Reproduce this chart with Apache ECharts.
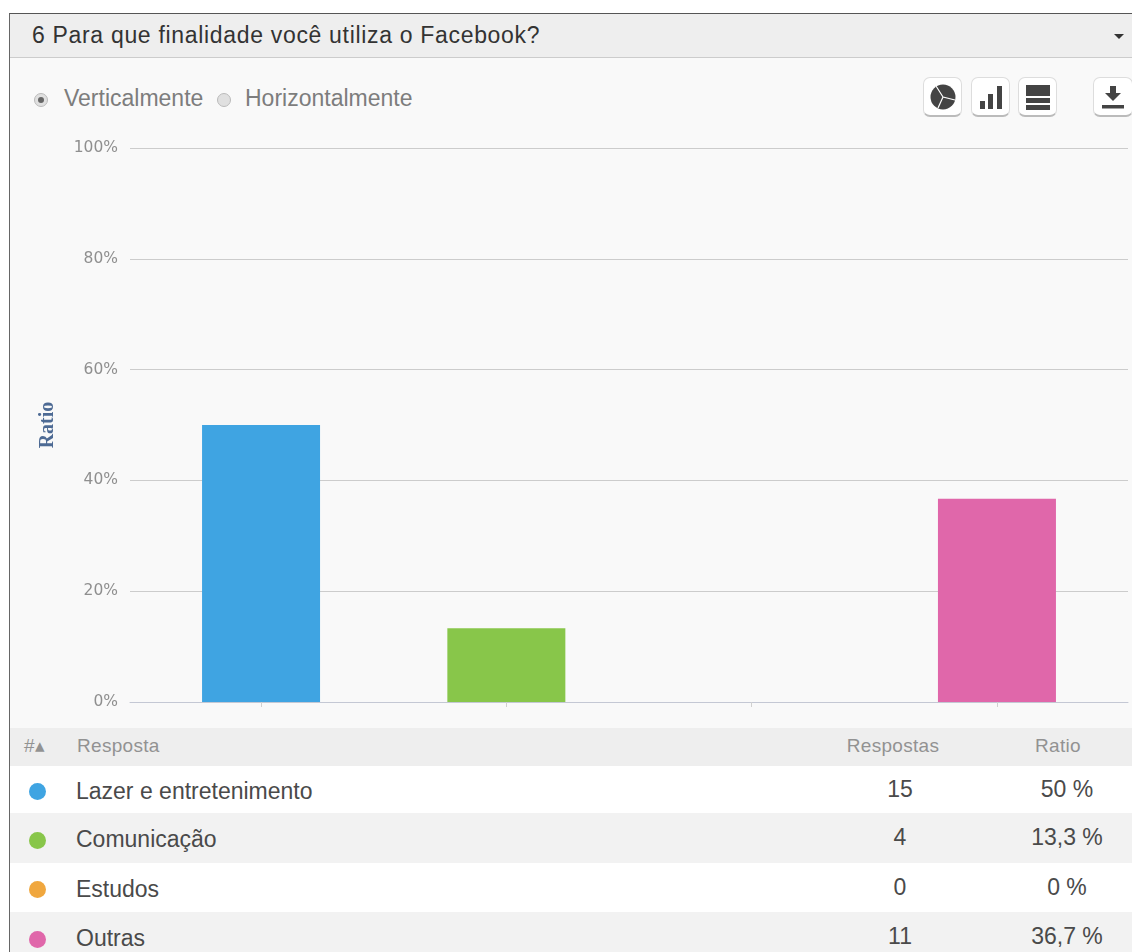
<!DOCTYPE html>
<html lang="pt">
<head>
<meta charset="utf-8">
<title>6 Para que finalidade você utiliza o Facebook?</title>
<script src="https://cdn.jsdelivr.net/npm/echarts@6/dist/echarts.min.js"></script>
<style>
  html, body { margin: 0; padding: 0; background: #fff; }
  #page { position: relative; width: 1132px; height: 952px; overflow: hidden; font-family: "Liberation Sans", Arial, sans-serif; }
  #panel { position: absolute; left: 9px; top: 13px; width: 1123px; height: 939px; border-left: 1px solid #666; border-top: 1px solid #555; box-sizing: border-box; background: #f9f9f9; }
  #head { position: absolute; left: 10px; top: 14px; width: 1122px; height: 44px; background: #eeeeee; border-bottom: 1px solid #ccc; box-sizing: border-box; }
  #title { position: absolute; left: 32px; top: 21px; font-size: 23px; letter-spacing: 0.68px; line-height: 28px; color: #333; white-space: nowrap; }
  #caret { position: absolute; left: 1114px; top: 34px; width: 0; height: 0; border: 5px solid transparent; border-top: 5px solid #333; border-bottom: 0; }
  .radio { position: absolute; top: 93px; width: 14px; height: 14px; border-radius: 50%; background: #e0e0e0; border: 1px solid #bbb; box-sizing: border-box; }
  .radio.on::after { content: ""; position: absolute; left: 3px; top: 3px; width: 6px; height: 6px; border-radius: 50%; background: #666; }
  .mode { position: absolute; top: 84px; font-size: 23px; line-height: 28px; color: #7d7d7d; white-space: nowrap; }
  .btn { position: absolute; top: 77px; width: 39px; height: 40px; background: #fff; border: 1px solid #ddd; border-bottom: 2px solid #bbb; border-radius: 7px; box-sizing: border-box; }
  .btn svg { position: absolute; left: 0; top: 0; }
  #chart { position: absolute; left: 0; top: 0; width: 1132px; height: 728px; }
  #thead { position: absolute; left: 10px; top: 728px; width: 1122px; height: 38px; background: #eeeeee; }
  .row { position: absolute; left: 10px; width: 1122px; }
  .dot { position: absolute; left: 28px; width: 17px; height: 17px; border-radius: 50%; }
  .cell { position: absolute; white-space: nowrap; color: #4a4a4a; font-size: 23px; line-height: 28px; }
  .hcell { position: absolute; white-space: nowrap; color: #929292; font-size: 19px; letter-spacing: 0.3px; line-height: 22px; top: 735px; }
  .center { transform: translateX(-50%); }
</style>
</head>
<body>
<div id="page">
  <div id="panel"></div>
  <div id="head"></div>
  <div id="title">6 Para que finalidade você utiliza o Facebook?</div>
  <div id="caret"></div>
  <div class="radio on" style="left:34px"></div>
  <div class="mode" style="left:64px">Verticalmente</div>
  <div class="radio" style="left:217px"></div>
  <div class="mode" style="left:245px">Horizontalmente</div>

  <div class="btn" style="left:923px"><svg width="38" height="38" viewBox="0 0 38 38">
    <circle cx="19" cy="19" r="12.5" fill="#444"/>
    <path d="M19 19 L12 8 M19 19 L31 22 M19 19 L14 30" stroke="#fff" stroke-width="1.2"/></svg></div>
  <div class="btn" style="left:971px"><svg width="38" height="38" viewBox="0 0 38 38" fill="#444">
    <rect x="8" y="23" width="5" height="8"/><rect x="16" y="16" width="5" height="15"/><rect x="25" y="8" width="5" height="23"/></svg></div>
  <div class="btn" style="left:1018px"><svg width="38" height="38" viewBox="0 0 38 38" fill="#444">
    <rect x="7" y="7" width="24" height="11"/><rect x="7" y="20" width="24" height="5"/><rect x="7" y="27" width="24" height="5"/></svg></div>
  <div class="btn" style="left:1093px;width:40px"><svg width="38" height="38" viewBox="0 0 38 38" fill="#444">
    <path d="M16 8 H22 V15 H27 L19 23 L11 15 H16 Z"/><rect x="8" y="27" width="22" height="3.5"/></svg></div>

  <div id="thead"></div>
  <div class="hcell" style="left:24px">#▴</div>
  <div class="hcell" style="left:77px">Resposta</div>
  <div class="hcell center" style="left:893px">Respostas</div>
  <div class="hcell center" style="left:1058px">Ratio</div>
  <div id="rows"></div>
  <div id="chart"></div>
</div>
<script>
// Survey answers for question 6
const categories = ['Lazer e entretenimento', 'Comunicação', 'Estudos', 'Outras'];
const responseCounts = [15, 4, 0, 11];
const ratioValues = [50, 13.3, 0, 36.7];
const ratioLabels = ['50 %', '13,3 %', '0 %', '36,7 %'];
const answerColors = ['#3fa4e2', '#88c64a', '#f0a73e', '#e067aa'];
const rowBands = [[766, 47], [813, 50], [863, 49], [912, 40]];
const yMax = 100;
const yStep = 20;

// Summary table under the plot
const rows = document.getElementById('rows');
categories.forEach((name, i) => {
  const [top, height] = rowBands[i];
  const mid = top + height / 2;
  const textTop = i === 3 ? 924 : mid - 13;
  rows.insertAdjacentHTML('beforeend', `
    <div class="row" style="top:${top}px;height:${height}px;background:${i % 2 ? '#f2f2f2' : '#ffffff'}"></div>
    <div class="dot" style="top:${(i === 3 ? 939 : mid + 2) - 8.5}px;left:29px;background:${answerColors[i]}"></div>
    <div class="cell" style="left:76px;top:${textTop}px">${name}</div>
    <div class="cell center" style="left:900px;top:${textTop - 2}px">${responseCounts[i]}</div>
    <div class="cell center" style="left:1067px;top:${textTop - 2}px">${ratioLabels[i]}</div>`);
});

const chart = echarts.init(document.getElementById('chart'), null, { renderer: 'canvas' });
chart.setOption({
  animation: false,
  backgroundColor: 'transparent',
  // The first grid carries the long horizontal rules, the second one sits
  // slightly inset so that the categories keep their side padding.
  grid: [
    { left: 130, right: 4, top: 148, height: 554 },
    { left: 138.4, right: 12.4, top: 148, height: 554 }
  ],
  xAxis: [
    {
      gridIndex: 0, type: 'category', data: [''],
      axisLine: { show: true, lineStyle: { color: '#c4c8d4', width: 1 } },
      axisTick: { show: false }, axisLabel: { show: false }
    },
    {
      gridIndex: 1, type: 'category', data: categories,
      axisLine: { show: false },
      axisTick: { show: true, alignWithLabel: true, length: 5, lineStyle: { color: '#d0d0d0' } },
      axisLabel: { show: false }
    }
  ],
  yAxis: [
    {
      gridIndex: 0, type: 'value', min: 0, max: yMax, interval: yStep,
      name: 'Ratio', nameLocation: 'middle', nameGap: 72, nameRotate: 90,
      nameTextStyle: { fontFamily: 'Liberation Serif', fontWeight: 'bold', fontSize: 20, color: '#4d6a94' },
      axisLine: { show: false }, axisTick: { show: false },
      axisLabel: { formatter: '{value}%', fontFamily: 'DejaVu Sans', fontSize: 15.5, color: '#8f8f8f', margin: 12 },
      splitLine: { show: true, lineStyle: { color: '#cccccc', width: 1 } }
    },
    {
      gridIndex: 1, type: 'value', min: 0, max: yMax, interval: yStep,
      axisLine: { show: false }, axisTick: { show: false },
      axisLabel: { show: false }, splitLine: { show: false }
    }
  ],
  series: [{
    type: 'bar', xAxisIndex: 1, yAxisIndex: 1, barWidth: 118,
    data: ratioValues.map((value, i) => ({ value, itemStyle: { color: answerColors[i] } }))
  }]
});
</script>
</body>
</html>
